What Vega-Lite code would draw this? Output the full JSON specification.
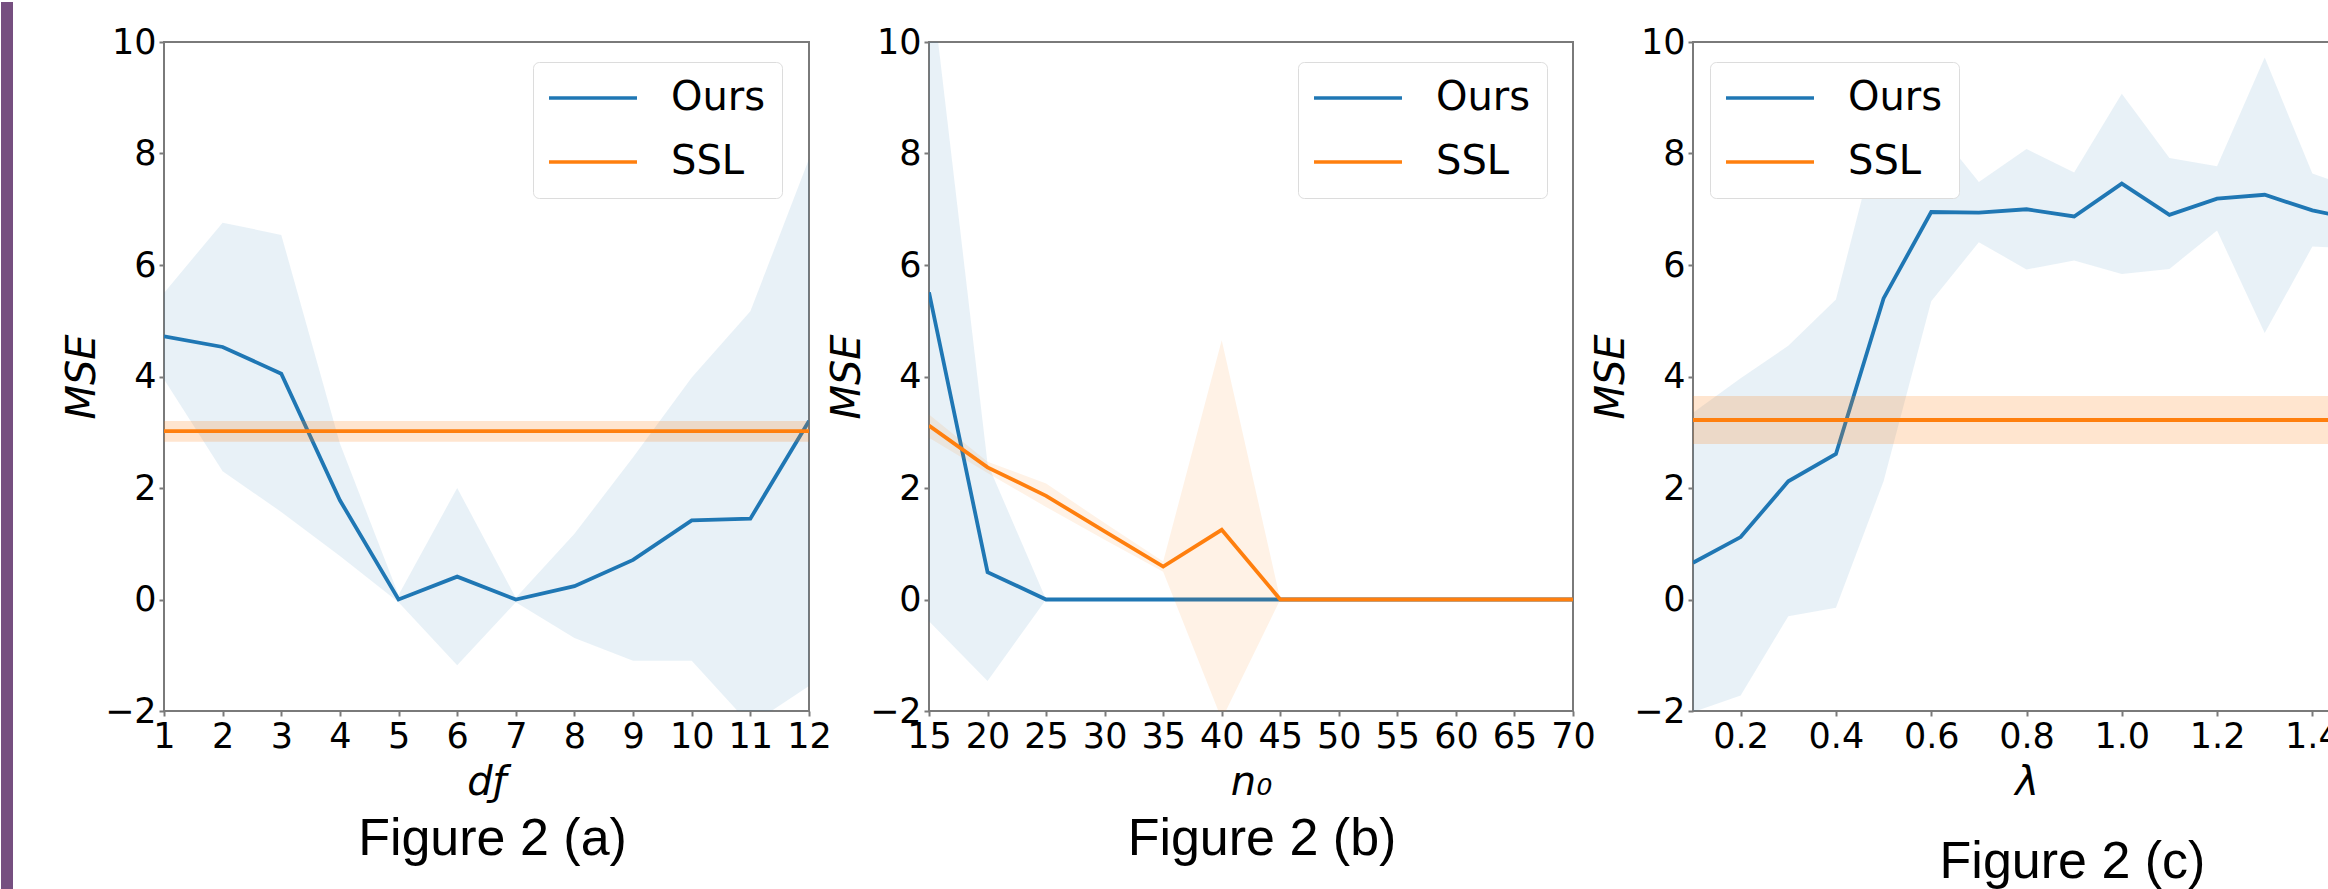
{
  "$schema": "https://vega.github.io/schema/vega-lite/v6.json",
  "background": "white",
  "padding": {"left": 0, "top": 0, "right": 0, "bottom": 0},
  "datasets": {
    "a": [
      {"x": 1, "s": "Ours", "m": 4.72, "lo": 3.95, "hi": 5.5},
      {"x": 2, "s": "Ours", "m": 4.53, "lo": 2.3, "hi": 6.76},
      {"x": 3, "s": "Ours", "m": 4.05, "lo": 1.57, "hi": 6.54},
      {"x": 4, "s": "Ours", "m": 1.78, "lo": 0.78, "hi": 2.8},
      {"x": 5, "s": "Ours", "m": 0.0, "lo": -0.05, "hi": 0.08},
      {"x": 6, "s": "Ours", "m": 0.41, "lo": -1.18, "hi": 2.0},
      {"x": 7, "s": "Ours", "m": 0.0, "lo": -0.05, "hi": 0.03},
      {"x": 8, "s": "Ours", "m": 0.24, "lo": -0.69, "hi": 1.18},
      {"x": 9, "s": "Ours", "m": 0.71, "lo": -1.1, "hi": 2.55},
      {"x": 10, "s": "Ours", "m": 1.42, "lo": -1.1, "hi": 3.98},
      {"x": 11, "s": "Ours", "m": 1.45, "lo": -2.25, "hi": 5.17},
      {"x": 12, "s": "Ours", "m": 3.2, "lo": -1.55, "hi": 7.9},
      {"x": 1, "s": "SSL", "m": 3.02, "lo": 2.83, "hi": 3.2},
      {"x": 2, "s": "SSL", "m": 3.02, "lo": 2.83, "hi": 3.2},
      {"x": 3, "s": "SSL", "m": 3.02, "lo": 2.83, "hi": 3.2},
      {"x": 4, "s": "SSL", "m": 3.02, "lo": 2.83, "hi": 3.2},
      {"x": 5, "s": "SSL", "m": 3.02, "lo": 2.83, "hi": 3.2},
      {"x": 6, "s": "SSL", "m": 3.02, "lo": 2.83, "hi": 3.2},
      {"x": 7, "s": "SSL", "m": 3.02, "lo": 2.83, "hi": 3.2},
      {"x": 8, "s": "SSL", "m": 3.02, "lo": 2.83, "hi": 3.2},
      {"x": 9, "s": "SSL", "m": 3.02, "lo": 2.83, "hi": 3.2},
      {"x": 10, "s": "SSL", "m": 3.02, "lo": 2.83, "hi": 3.2},
      {"x": 11, "s": "SSL", "m": 3.02, "lo": 2.83, "hi": 3.2},
      {"x": 12, "s": "SSL", "m": 3.02, "lo": 2.83, "hi": 3.2}
    ],
    "b": [
      {"x": 15, "s": "Ours", "m": 5.51, "lo": -0.39, "hi": 11.4},
      {"x": 20, "s": "Ours", "m": 0.49, "lo": -1.46, "hi": 2.44},
      {"x": 25, "s": "Ours", "m": 0, "lo": 0, "hi": 0},
      {"x": 30, "s": "Ours", "m": 0, "lo": 0, "hi": 0},
      {"x": 35, "s": "Ours", "m": 0, "lo": 0, "hi": 0},
      {"x": 40, "s": "Ours", "m": 0, "lo": 0, "hi": 0},
      {"x": 45, "s": "Ours", "m": 0, "lo": 0, "hi": 0},
      {"x": 50, "s": "Ours", "m": 0, "lo": 0, "hi": 0},
      {"x": 55, "s": "Ours", "m": 0, "lo": 0, "hi": 0},
      {"x": 60, "s": "Ours", "m": 0, "lo": 0, "hi": 0},
      {"x": 65, "s": "Ours", "m": 0, "lo": 0, "hi": 0},
      {"x": 70, "s": "Ours", "m": 0, "lo": 0, "hi": 0},
      {"x": 15, "s": "SSL", "m": 3.12, "lo": 2.9, "hi": 3.32},
      {"x": 20, "s": "SSL", "m": 2.37, "lo": 2.27, "hi": 2.47},
      {"x": 25, "s": "SSL", "m": 1.86, "lo": 1.66, "hi": 2.08},
      {"x": 30, "s": "SSL", "m": 1.22, "lo": 1.07, "hi": 1.37},
      {"x": 35, "s": "SSL", "m": 0.59, "lo": 0.5, "hi": 0.68},
      {"x": 40, "s": "SSL", "m": 1.25, "lo": -2.15, "hi": 4.65},
      {"x": 45, "s": "SSL", "m": 0, "lo": 0, "hi": 0},
      {"x": 50, "s": "SSL", "m": 0, "lo": 0, "hi": 0},
      {"x": 55, "s": "SSL", "m": 0, "lo": 0, "hi": 0},
      {"x": 60, "s": "SSL", "m": 0, "lo": 0, "hi": 0},
      {"x": 65, "s": "SSL", "m": 0, "lo": 0, "hi": 0},
      {"x": 70, "s": "SSL", "m": 0, "lo": 0, "hi": 0}
    ],
    "c": [
      {"x": 0.1, "s": "Ours", "m": 0.66, "lo": -2.02, "hi": 3.35},
      {"x": 0.2, "s": "Ours", "m": 1.12, "lo": -1.72, "hi": 3.97},
      {"x": 0.3, "s": "Ours", "m": 2.12, "lo": -0.3, "hi": 4.55},
      {"x": 0.4, "s": "Ours", "m": 2.61, "lo": -0.15, "hi": 5.38},
      {"x": 0.5, "s": "Ours", "m": 5.4, "lo": 2.12, "hi": 8.7},
      {"x": 0.6, "s": "Ours", "m": 6.95, "lo": 5.35, "hi": 8.55},
      {"x": 0.7, "s": "Ours", "m": 6.94, "lo": 6.41, "hi": 7.49},
      {"x": 0.8, "s": "Ours", "m": 7.0, "lo": 5.92, "hi": 8.08},
      {"x": 0.9, "s": "Ours", "m": 6.87, "lo": 6.08, "hi": 7.66},
      {"x": 1.0, "s": "Ours", "m": 7.46, "lo": 5.84, "hi": 9.07},
      {"x": 1.1, "s": "Ours", "m": 6.9, "lo": 5.93, "hi": 7.92},
      {"x": 1.2, "s": "Ours", "m": 7.19, "lo": 6.62, "hi": 7.77},
      {"x": 1.3, "s": "Ours", "m": 7.26, "lo": 4.78, "hi": 9.72},
      {"x": 1.4, "s": "Ours", "m": 6.98, "lo": 6.33, "hi": 7.64},
      {"x": 1.5, "s": "Ours", "m": 6.8, "lo": 6.3, "hi": 7.35},
      {"x": 0.1, "s": "SSL", "m": 3.22, "lo": 2.79, "hi": 3.65},
      {"x": 0.2, "s": "SSL", "m": 3.22, "lo": 2.79, "hi": 3.65},
      {"x": 0.3, "s": "SSL", "m": 3.22, "lo": 2.79, "hi": 3.65},
      {"x": 0.4, "s": "SSL", "m": 3.22, "lo": 2.79, "hi": 3.65},
      {"x": 0.5, "s": "SSL", "m": 3.22, "lo": 2.79, "hi": 3.65},
      {"x": 0.6, "s": "SSL", "m": 3.22, "lo": 2.79, "hi": 3.65},
      {"x": 0.7, "s": "SSL", "m": 3.22, "lo": 2.79, "hi": 3.65},
      {"x": 0.8, "s": "SSL", "m": 3.22, "lo": 2.79, "hi": 3.65},
      {"x": 0.9, "s": "SSL", "m": 3.22, "lo": 2.79, "hi": 3.65},
      {"x": 1.0, "s": "SSL", "m": 3.22, "lo": 2.79, "hi": 3.65},
      {"x": 1.1, "s": "SSL", "m": 3.22, "lo": 2.79, "hi": 3.65},
      {"x": 1.2, "s": "SSL", "m": 3.22, "lo": 2.79, "hi": 3.65},
      {"x": 1.3, "s": "SSL", "m": 3.22, "lo": 2.79, "hi": 3.65},
      {"x": 1.4, "s": "SSL", "m": 3.22, "lo": 2.79, "hi": 3.65},
      {"x": 1.5, "s": "SSL", "m": 3.22, "lo": 2.79, "hi": 3.65}
    ]
  },
  "hconcat": [
    {
      "width": 645,
      "height": 669,
      "data": {"name": "a"},
      "title": {"text": "Figure 2 (a)", "dx": 6, "dy": -89},
      "encoding": {
        "x": {"field": "x", "type": "quantitative", "scale": {"domain": [1, 12], "nice": false, "zero": false},
              "axis": {"title": "dƒ", "values": [1,2,3,4,5,6,7,8,9,10,11,12], "format": "d"}},
        "y": {"field": "m", "type": "quantitative", "scale": {"domain": [-2, 10], "nice": false},
              "axis": {"title": "MSE", "values": [-2,0,2,4,6,8,10], "format": "d"}}
      },
      "layer": [
        {"mark": {"type": "rect", "color": "#764f80", "clip": false},
         "encoding": {"x": {"datum": -1.7798, "type": "quantitative"}, "x2": {"datum": -1.5752},
                      "y": {"datum": 10.7175, "type": "quantitative"}, "y2": {"datum": -5.2287}}},
        {"transform": [{"filter": "datum.s === 'Ours'"}],
         "mark": {"type": "area", "color": "#1f77b4", "opacity": 0.1, "clip": true},
         "encoding": {"y": {"field": "lo", "type": "quantitative"}, "y2": {"field": "hi"}}},
        {"transform": [{"filter": "datum.s === 'Ours'"}],
         "mark": {"type": "line", "strokeWidth": 3.8, "clip": true},
         "encoding": {"color": {"field": "s", "type": "nominal", "scale": {"domain": ["Ours", "SSL"], "range": ["#1f77b4", "#ff7f0e"]},
                                "legend": {"title": null, "orient": "none", "legendX": 369, "legendY": 20}}}},
        {"transform": [{"filter": "datum.s === 'SSL'"}],
         "mark": {"type": "area", "color": "#ff7f0e", "opacity": 0.2, "clip": true},
         "encoding": {"y": {"field": "lo", "type": "quantitative"}, "y2": {"field": "hi"}}},
        {"transform": [{"filter": "datum.s === 'SSL'"}],
         "mark": {"type": "line", "strokeWidth": 3.8, "clip": true},
         "encoding": {"color": {"field": "s", "type": "nominal"}}}
      ]
    },
    {
      "width": 644,
      "height": 669,
      "data": {"name": "b"},
      "title": {"text": "Figure 2 (b)", "dx": 11},
      "encoding": {
        "x": {"field": "x", "type": "quantitative", "scale": {"domain": [15, 70], "nice": false, "zero": false},
              "axis": {"title": "n₀", "values": [15,20,25,30,35,40,45,50,55,60,65,70], "format": "d"}},
        "y": {"field": "m", "type": "quantitative", "scale": {"domain": [-2, 10], "nice": false},
              "axis": {"title": "MSE", "values": [-2,0,2,4,6,8,10], "format": "d"}}
      },
      "layer": [
        {"transform": [{"filter": "datum.s === 'Ours'"}],
         "mark": {"type": "area", "color": "#1f77b4", "opacity": 0.1, "clip": true},
         "encoding": {"y": {"field": "lo", "type": "quantitative"}, "y2": {"field": "hi"}}},
        {"transform": [{"filter": "datum.s === 'Ours'"}],
         "mark": {"type": "line", "strokeWidth": 3.8, "clip": true},
         "encoding": {"color": {"field": "s", "type": "nominal", "scale": {"domain": ["Ours", "SSL"], "range": ["#1f77b4", "#ff7f0e"]},
                                "legend": {"title": null, "orient": "none", "legendX": 369, "legendY": 20}}}},
        {"transform": [{"filter": "datum.s === 'SSL'"}],
         "mark": {"type": "area", "color": "#ff7f0e", "opacity": 0.1, "clip": true},
         "encoding": {"y": {"field": "lo", "type": "quantitative"}, "y2": {"field": "hi"}}},
        {"transform": [{"filter": "datum.s === 'SSL'"}],
         "mark": {"type": "line", "strokeWidth": 3.8, "clip": true},
         "encoding": {"color": {"field": "s", "type": "nominal"}}}
      ]
    },
    {
      "width": 667,
      "height": 669,
      "data": {"name": "c"},
      "title": {"text": "Figure 2 (c)", "dx": 46, "dy": 23},
      "encoding": {
        "x": {"field": "x", "type": "quantitative", "scale": {"domain": [0.1, 1.5], "nice": false, "zero": false},
              "axis": {"title": "λ", "values": [0.2,0.4,0.6,0.8,1.0,1.2,1.4], "format": ".1f"}},
        "y": {"field": "m", "type": "quantitative", "scale": {"domain": [-2, 10], "nice": false},
              "axis": {"title": "MSE", "values": [-2,0,2,4,6,8,10], "format": "d"}}
      },
      "layer": [
        {"transform": [{"filter": "datum.s === 'Ours'"}],
         "mark": {"type": "area", "color": "#1f77b4", "opacity": 0.1, "clip": true},
         "encoding": {"y": {"field": "lo", "type": "quantitative"}, "y2": {"field": "hi"}}},
        {"transform": [{"filter": "datum.s === 'Ours'"}],
         "mark": {"type": "line", "strokeWidth": 3.8, "clip": true},
         "encoding": {"color": {"field": "s", "type": "nominal", "scale": {"domain": ["Ours", "SSL"], "range": ["#1f77b4", "#ff7f0e"]},
                                "legend": {"title": null, "orient": "none", "legendX": 17, "legendY": 20}}}},
        {"transform": [{"filter": "datum.s === 'SSL'"}],
         "mark": {"type": "area", "color": "#ff7f0e", "opacity": 0.2, "clip": true},
         "encoding": {"y": {"field": "lo", "type": "quantitative"}, "y2": {"field": "hi"}}},
        {"transform": [{"filter": "datum.s === 'SSL'"}],
         "mark": {"type": "line", "strokeWidth": 3.8, "clip": true},
         "encoding": {"color": {"field": "s", "type": "nominal"}}}
      ]
    }
  ],
  "spacing": 120,
  "bounds": "flush",
  "resolve": {"scale": {"color": "independent", "x": "independent", "y": "independent"}, "legend": {"color": "independent"}, "axis": {"x": "independent", "y": "independent"}},
  "config": {
    "view": {"stroke": "#7a7a7a", "strokeWidth": 2},
    "axis": {
      "domain": false, "grid": false,
      "labelFont": "DejaVu Sans", "labelFontSize": 35, "labelColor": "#000000",
      "tickColor": "#7a7a7a", "tickSize": 5, "tickWidth": 2, "labelPadding": 3,
      "titleFont": "DejaVu Sans", "titleFontSize": 40, "titleFontWeight": "normal", "titleFontStyle": "italic", "titleColor": "#000000"
    },
    "axisY": {"titlePadding": 2, "labelFlush": false},
    "axisX": {"titlePadding": 8, "labelFlush": false},
    "legend": {
      "symbolType": "M-3,0H3", "symbolSize": 860, "symbolStrokeWidth": 3.5, "symbolOffset": 24,
      "labelFont": "DejaVu Sans", "labelFontSize": 40, "labelColor": "#000000", "labelOffset": 58,
      "padding": 16, "rowPadding": 24, "strokeColor": "#dcdcdc", "fillColor": "#ffffff", "cornerRadius": 6
    },
    "title": {"orient": "bottom", "anchor": "middle", "font": "Liberation Sans", "fontSize": 52, "fontWeight": "normal", "color": "#000000", "offset": 12}
  }
}
